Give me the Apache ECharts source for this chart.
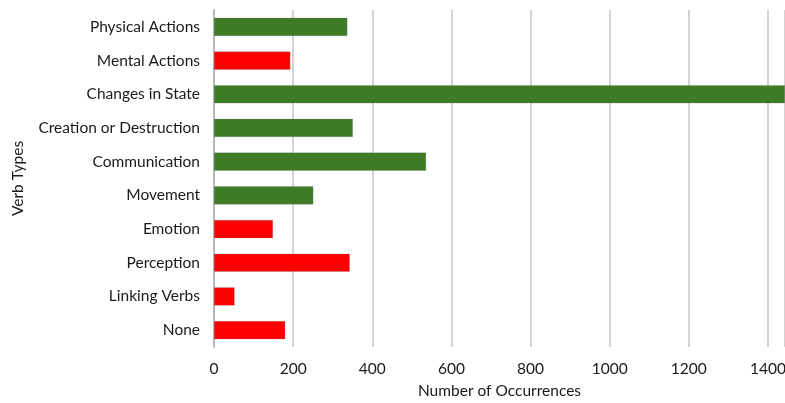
<!DOCTYPE html>
<html>
<head>
<meta charset="utf-8">
<script src="https://cdn.jsdelivr.net/npm/echarts@6/dist/echarts.min.js"></script>
<style>html,body{margin:0;padding:0;background:#fff}#c{width:785px;height:403px}</style>
</head>
<body>
<div id="c"></div>
<script>
const categories = ["Physical Actions","Mental Actions","Changes in State","Creation or Destruction","Communication","Movement","Emotion","Perception","Linking Verbs","None"];
const values = [337, 193, 1443, 351, 536, 251, 149, 343, 52, 180];
const groups = ["g","r","g","g","g","g","r","r","r","r"];
const xTicks = [0,200,400,600,800,1000,1200,1400];

const colorOf = {g:"#3d7b24", r:"#ff0000"};
const font = "Lato, 'Open Sans', sans-serif";
const chart = echarts.init(document.getElementById('c'));
chart.setOption({
  animation:false,
  grid:{left:214,right:0,top:10,bottom:56,containLabel:false,outerBoundsMode:'none'},
  xAxis:{
    type:'value', min:0, max:1443, interval:200,
    name:'Number of Occurrences', nameLocation:'middle', nameGap:36,
    nameTextStyle:{fontFamily:font,fontSize:15.5,color:'#1a1a1a'},
    axisLabel:{fontFamily:font,fontSize:15.5,color:'#1a1a1a',margin:14,
      formatter:v=>xTicks.includes(v)?String(v):''},
    axisLine:{show:false}, axisTick:{show:false},
    splitLine:{show:true,lineStyle:{color:'#c4c4c4',width:1.5}}
  },
  yAxis:{
    type:'category', data:categories, inverse:true,
    name:'Verb Types', nameLocation:'middle', nameGap:188, nameRotate:90,
    nameTextStyle:{fontFamily:font,fontSize:15.5,color:'#1a1a1a'},
    axisLabel:{fontFamily:font,fontSize:15.5,color:'#1a1a1a',margin:14},
    axisLine:{show:true,lineStyle:{color:'#b8b8b8',width:2}}, axisTick:{show:false}
  },
  series:[{
    type:'bar', barCategoryGap:'46%',
    data:values.map((v,i)=>({value:v,itemStyle:{color:colorOf[groups[i]],borderColor:'rgba(120,120,120,0.5)',borderWidth:0.5}}))
  }]
});
</script>
</body>
</html>
